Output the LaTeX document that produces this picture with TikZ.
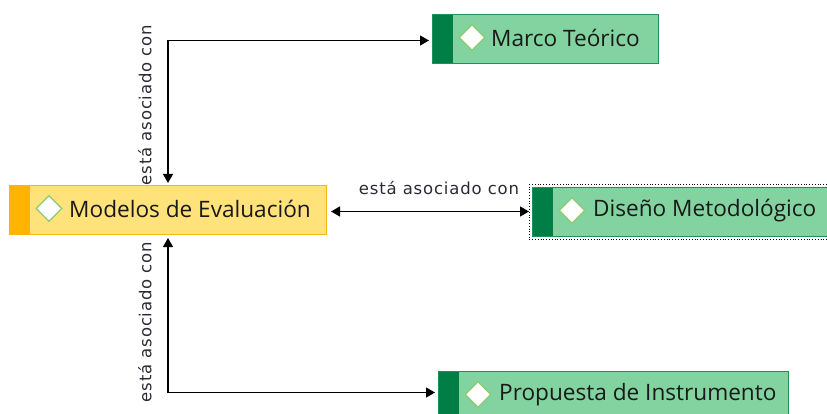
\documentclass[tikz,border=0pt]{standalone}
\usepackage{fontspec}
\setmainfont{Open Sans}
\newfontfamily\lblfont[LetterSpace=5]{DejaVu Sans}
\usetikzlibrary{arrows.meta,shapes.geometric}
\definecolor{yfill}{HTML}{FFE27A}
\definecolor{yborder}{HTML}{F2B90C}
\definecolor{ystrip}{HTML}{FFB400}
\definecolor{gfill}{HTML}{82D3A0}
\definecolor{gborder}{HTML}{1E9158}
\definecolor{gstrip}{HTML}{007E45}
\definecolor{dborder}{HTML}{8CCB6E}
\definecolor{lbl}{HTML}{2A2A35}
\tikzset{
  box/.style={rectangle, anchor=north west, minimum height=49pt, inner sep=0pt, line width=1pt},
  ybox/.style={box, fill=yfill, draw=yborder,
    path picture={\fill[ystrip] (path picture bounding box.south west) rectangle ([xshift=20pt]path picture bounding box.north west);}},
  gbox/.style={box, fill=gfill, draw=gborder,
    path picture={\fill[gstrip] (path picture bounding box.south west) rectangle ([xshift=20pt]path picture bounding box.north west);}},
  dia/.style={diamond, fill=white, draw=dborder, line width=1.2pt, minimum width=26pt, minimum height=26pt, inner sep=0pt},
  btext/.style={anchor=west, inner sep=0pt, font=\fontsize{22.6}{26}\selectfont, text=black!90},
  conn/.style={line width=1.2pt, {Triangle[length=9pt,width=10pt]}-{Triangle[length=9pt,width=10pt]}},
  elbl/.style={inner sep=0pt, font=\lblfont\fontsize{16.5}{19}\selectfont, text=lbl},
}
\begin{document}
\begin{tikzpicture}[x=1pt,y=-1pt]
\useasboundingbox (0,0) rectangle (827,414);
\clip (0,0) rectangle (827,414);
% boxes
\node[ybox, minimum width=317pt] (mod) at (9,185) {};
\node[dia] (modd) at ([xshift=40pt,yshift=1.5pt]mod.west) {};
\node[btext] (modt) at ([xshift=60pt,yshift=1.5pt]mod.west) {Modelos de Evaluación};

\node[gbox, minimum width=226pt] (mar) at (432,14) {};
\node[dia] (mard) at ([xshift=40pt,yshift=1.5pt]mar.west) {};
\node[btext] (mart) at ([xshift=59pt,yshift=1.5pt]mar.west) {Marco Teórico};

\node[gbox, minimum width=310pt] (dis) at (532,187) {};
\node[dia] (disd) at ([xshift=40pt,yshift=1.5pt]dis.west) {};
\node[btext] (dist) at ([xshift=61pt,yshift=1.5pt]dis.west) {Diseño Metodológico};
\node[draw=black, dotted, line width=0.8pt, rectangle, inner sep=0pt, anchor=north west, minimum width=320pt, minimum height=55pt] (dissel) at (529,184) {};

\node[gbox, minimum width=350pt] (pro) at (438,371) {};
\node[dia] (prod) at ([xshift=40pt,yshift=1.5pt]pro.west) {};
\node[btext] (prot) at ([xshift=61pt,yshift=1.5pt]pro.west) {Propuesta de Instrumento};

% connectors
\draw[conn] ([yshift=2pt]mod.north) |- ([xshift=-3pt,yshift=-1.5pt]mar.west);
\draw[conn] ([xshift=4pt,yshift=-1.5pt]mod.east) -- ([yshift=-1.5pt]dissel.west |- mod.east);
\draw[conn] ([yshift=-3pt]mod.south) |- ([xshift=-3pt,yshift=3.5pt]pro.west);

% labels
\node[elbl, rotate=90] (l1) at (145,105) {está asociado con};
\node[elbl] (l2) at (439,188) {está asociado con};
\node[elbl, rotate=90] (l3) at (145,322) {está asociado con};
\end{tikzpicture}
\end{document}
